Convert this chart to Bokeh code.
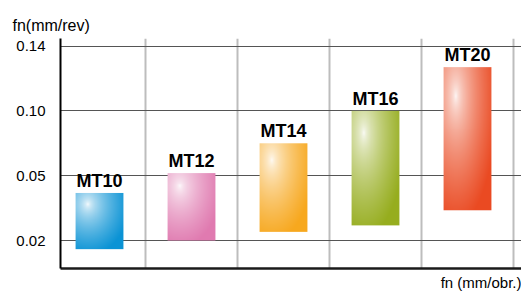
import numpy as np
from bokeh.plotting import figure
from bokeh.models import Range1d, FixedTicker, ColumnDataSource, LabelSet, Title
from bokeh.core.properties import value
from bokeh.embed import file_html
from bokeh.resources import INLINE

# ---- data ----
categories = ["MT10", "MT12", "MT14", "MT16", "MT20"]
feed_low = [0.016, 0.020, 0.024, 0.027, 0.034]    # fn (mm/rev)
feed_high = [0.042, 0.052, 0.075, 0.100, 0.127]
tick_values = [0.02, 0.05, 0.10, 0.14]
tick_labels = ["0.02", "0.05", "0.10", "0.14"]
bar_colors = ["#0a93d5", "#e07ab0", "#f7a81e", "#96ad1e", "#ea4a22"]

FONT = "Liberation Sans"

# axis is evenly spaced between the listed tick values (piecewise scale)
tv = np.array(tick_values)
tp = np.arange(len(tv), dtype=float)


def to_pos(v):
    v = np.asarray(v, dtype=float)
    p = np.interp(v, tv, tp)
    lo = v < tv[0]
    p[lo] = (v[lo] - tv[0]) / (tv[1] - tv[0])
    hi = v > tv[-1]
    p[hi] = tp[-1] + (v[hi] - tv[-1]) / (tv[-1] - tv[-2])
    return p


lows = to_pos(feed_low)
highs = to_pos(feed_high)
centers = np.arange(len(categories)) + 0.5
bar_w = 0.52

p = figure(width=521, height=293, output_backend="svg", toolbar_location=None,
           x_range=Range1d(0.076, 5.087), y_range=Range1d(-0.432, 3.117),
           min_border_left=60, min_border_right=0, min_border_top=38,
           min_border_bottom=24)
p.outline_line_color = None
p.background_fill_color = "white"

# y-axis title at top-left
p.title.text = "fn(mm/rev)"
p.title.align = "left"
p.title.offset = -48
p.title.standoff = 9
p.title.text_font = FONT
p.title.text_font_size = "16px"
p.title.text_font_style = "normal"
p.title.text_color = "black"

# grids
p.xgrid.ticker = FixedTicker(ticks=[1, 2, 3, 4, 5])
p.xgrid.grid_line_color = "#bdbdbd"
p.xgrid.grid_line_width = 2
p.ygrid.ticker = FixedTicker(ticks=list(tp))
p.ygrid.grid_line_color = "#555555"
p.ygrid.grid_line_width = 1.2

# y axis
p.yaxis.ticker = FixedTicker(ticks=list(tp))
p.yaxis.major_label_overrides = {float(k): s for k, s in zip(tp, tick_labels)}
p.yaxis.major_tick_line_color = None
p.yaxis.minor_tick_line_color = None
p.yaxis.axis_line_color = "black"
p.yaxis.axis_line_width = 2
p.yaxis.major_label_standoff = 9
p.yaxis.major_label_text_font = FONT
p.yaxis.major_label_text_font_size = "15px"
p.yaxis.major_label_text_color = "black"

# x axis (line only)
p.xaxis.ticker = FixedTicker(ticks=[])
p.xaxis.major_tick_line_color = None
p.xaxis.minor_tick_line_color = None
p.xaxis.major_label_text_font_size = "0px"
p.xaxis.major_label_standoff = 0
p.xaxis.axis_line_color = "#1a1a1a"
p.xaxis.axis_line_width = 2.5

# x-axis title at bottom-right
p.add_layout(Title(text="fn (mm/obr.)", align="right", offset=0, standoff=6,
                   text_font=FONT, text_font_size="15px",
                   text_font_style="normal", text_color="black"), "below")


# gradient bars as images
def grad_image(color, w_px, h_px):
    c = np.array([int(color[i:i + 2], 16) for i in (1, 3, 5)], dtype=float)
    yy, xx = np.mgrid[0:h_px, 0:w_px]
    u = (xx + 0.5) / w_px
    v = 1.0 - (yy + 0.5) / h_px   # row 0 is bottom -> v measured from top
    d = np.sqrt(((u - 0.25) / 0.75) ** 2 + ((v - 0.2) / 0.8) ** 2) / np.sqrt(2)
    t = np.clip(d / 0.8, 0, 1) ** 0.6
    rgb = 255 * (1 - t[..., None]) + c * t[..., None]
    img = np.empty((h_px, w_px, 4), dtype=np.uint8)
    img[..., :3] = np.clip(rgb, 0, 255).astype(np.uint8)
    img[..., 3] = 255
    return img.view(np.uint32).reshape(h_px, w_px)


images = []
for lo, hi, col in zip(lows, highs, bar_colors):
    h_px = max(2, int(round((hi - lo) * 65)))
    images.append(grad_image(col, 48, h_px))

p.image_rgba(image=images, x=list(centers - bar_w / 2), y=list(lows),
             dw=[bar_w] * len(categories), dh=list(highs - lows))

# bar labels
src = ColumnDataSource(dict(x=centers, y=highs, t=categories))
p.add_layout(LabelSet(x="x", y="y", text="t", source=src, y_offset=6,
                      text_align="center", text_baseline="alphabetic",
                      text_font=value(FONT), text_font_size=value("18px"),
                      text_font_style="bold", text_color="black"))

open("out.html", "w").write(file_html(p, INLINE))
